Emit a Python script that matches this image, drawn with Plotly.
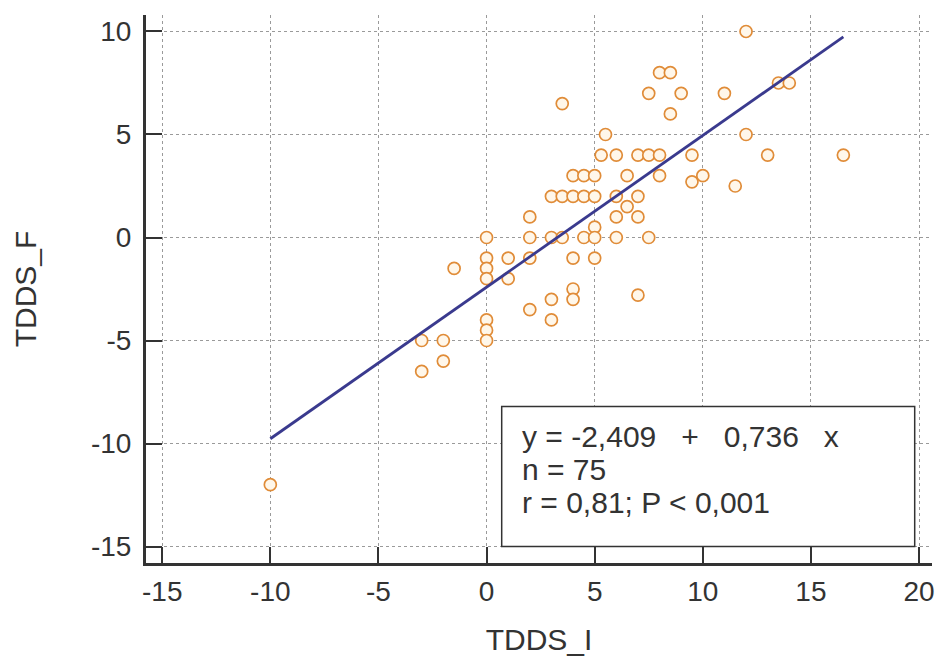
import plotly.graph_objects as go

# Data
tdds_i = [-10, -3, -3, -2, -2, -1.5, 0, 0, 0, 0, 0, 0, 0, 1, 1, 2, 2, 2, 2,
          3, 3, 3, 3, 3.5, 3.5, 3.5, 4, 4, 4, 4, 4, 4.5, 4.5, 4.5,
          5, 5, 5, 5, 5, 5.5, 5.3, 6, 6, 6, 6, 6.5, 6.5, 7, 7, 7, 7,
          7.5, 7.5, 7.5, 8, 8, 8, 8.5, 8.5, 9, 9.5, 9.5, 10, 11, 11.5,
          12, 12, 13, 13.5, 14, 16.5]
tdds_f = [-12, -5, -6.5, -5, -6, -1.5, 0, -1, -1.5, -2, -4, -4.5, -5, -1, -2, 1, 0, -1, -3.5,
          2, 0, -3, -4, 6.5, 2, 0, 3, 2, -1, -2.5, -3, 3, 2, 0,
          3, 2, 0.5, 0, -1, 5, 4, 4, 2, 1, 0, 3, 1.5, 4, 2, 1, -2.8,
          7, 4, 0, 8, 4, 3, 8, 6, 7, 4, 2.7, 3, 7, 2.5,
          10, 5, 4, 7.5, 7.5, 4]

intercept = -2.409
slope = 0.736
stat_lines = ["y = -2,409\u00a0\u00a0\u00a0+\u00a0\u00a0\u00a00,736\u00a0\u00a0\u00a0x", "n = 75", "r = 0,81; P < 0,001"]
x_ticks = [-15, -10, -5, 0, 5, 10, 15, 20]
x_ticktext = ["-15", "-10", "-5", "0", "5", "10", "15", "20"]
y_ticks = [-15, -10, -5, 0, 5, 10]
y_ticktext = ["-15", "-10", "-5", "0", "5", "10"]

x_lo, x_hi = min(tdds_i), max(tdds_i)
fit_x = [x_lo, x_hi]
fit_y = [intercept + slope * v for v in fit_x]

font_family = "Liberation Sans, Arial, sans-serif"
txt_color = "#333333"

fig = go.Figure()
fig.add_trace(go.Scatter(
    x=tdds_i, y=tdds_f, mode="markers",
    marker=dict(symbol="circle", size=12, color="#fff7ea",
                line=dict(color="#e08c38", width=1.7)),
    showlegend=False, hoverinfo="x+y"))
fig.add_trace(go.Scatter(
    x=fit_x, y=fit_y, mode="lines",
    line=dict(color="#3a3a8e", width=2.8),
    showlegend=False, hoverinfo="skip"))

axis_common = dict(
    showline=True, linewidth=3, linecolor="#333333", mirror=False,
    showgrid=True, gridcolor="#9a9a9a", gridwidth=1, griddash="dot",
    zeroline=False, ticks="inside", ticklen=16, tickwidth=2, tickcolor="#333333",
    tickfont=dict(family=font_family, size=28, color=txt_color),
)

fig.update_layout(
    width=939, height=659,
    margin=dict(l=146, r=4, t=15, b=96),
    paper_bgcolor="white", plot_bgcolor="white",
    font=dict(family=font_family, color=txt_color),
    xaxis=dict(range=[-15.75, 20.6], tickvals=x_ticks, ticktext=x_ticktext, ticklabelstandoff=1,
               title=dict(text="TDDS_I", font=dict(family=font_family, size=30, color=txt_color), standoff=24),
               **axis_common),
    yaxis=dict(range=[-15.8, 10.8], tickvals=y_ticks, ticktext=y_ticktext, ticklabelstandoff=6,
               title=dict(text="TDDS_F", font=dict(family=font_family, size=30, color=txt_color), standoff=46),
               **axis_common),
)

# statistics box
fig.add_shape(type="rect", xref="x", yref="y", x0=0.7, x1=19.8, y0=-15, y1=-8.2,
              line=dict(color="#333333", width=1.5), fillcolor="white", layer="above")
for i, s in enumerate(stat_lines):
    fig.add_annotation(xref="x", yref="y", x=1.55, y=-9.66 - 1.6 * i, text=s,
                       showarrow=False, xanchor="left", yanchor="middle",
                       font=dict(family=font_family, size=30, color=txt_color))

fig.write_html("out.html")
